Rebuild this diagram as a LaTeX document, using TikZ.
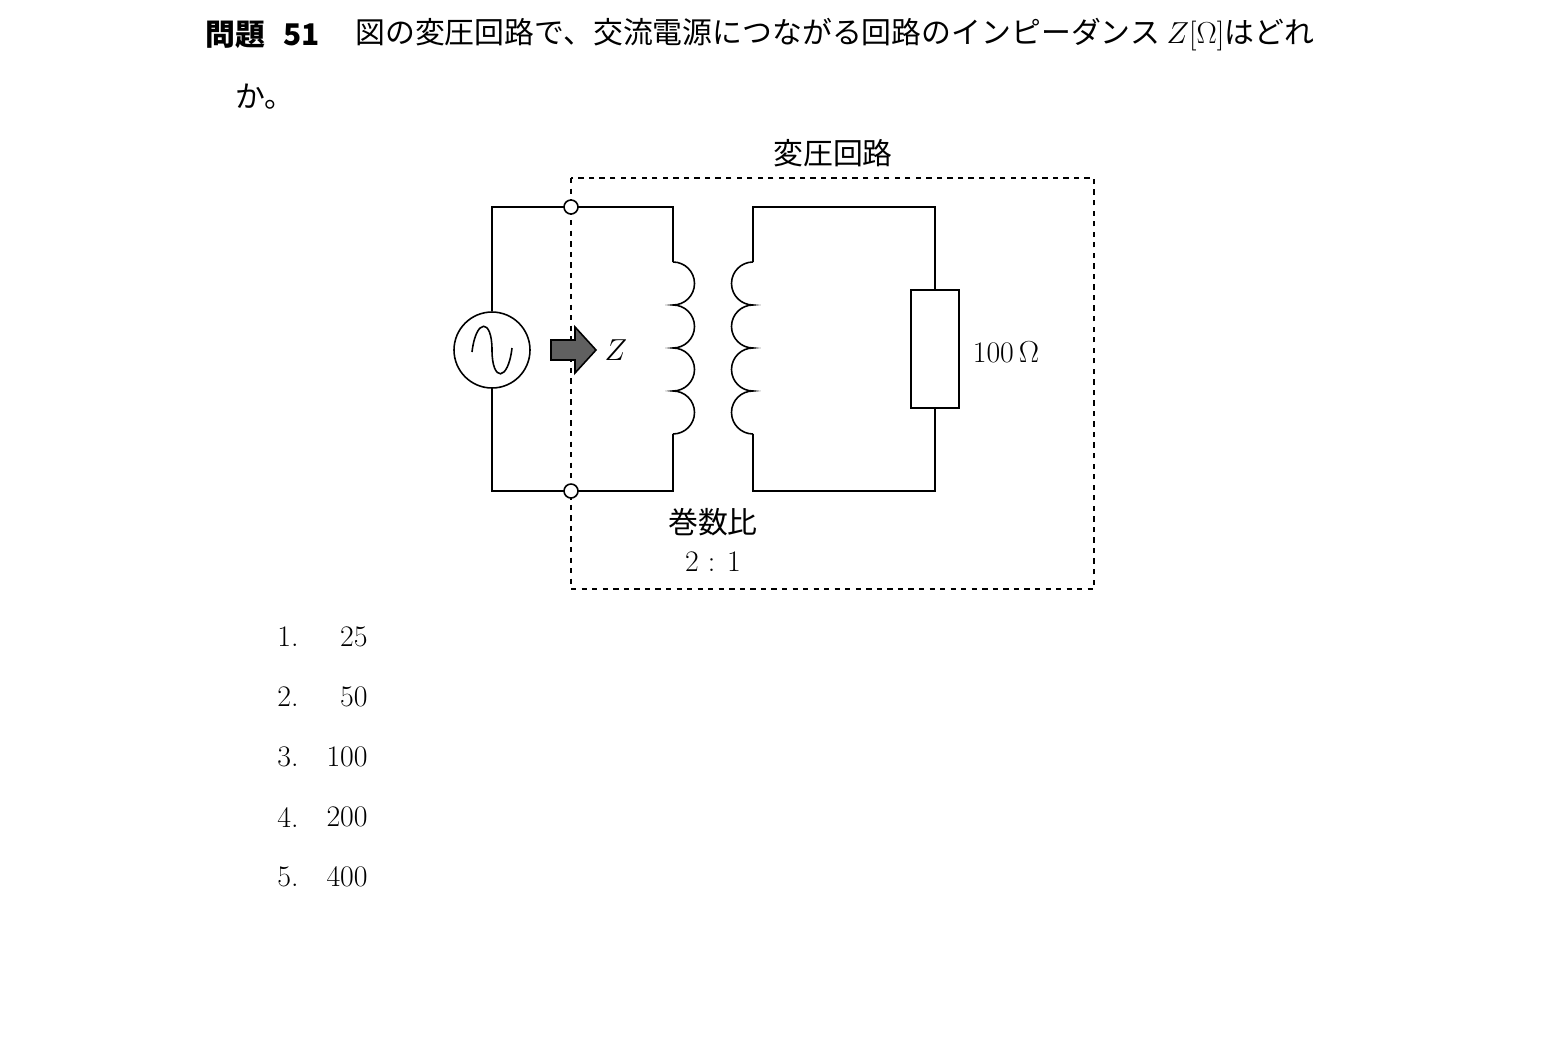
\documentclass[tikz,border=0pt]{standalone}
\usepackage{fontspec}
\newfontfamily\jp{Noto Sans CJK JP}
\usetikzlibrary{positioning}
\tikzset{
  wire/.style={line width=0.9pt},
  term/.style={circle,draw,fill=white,inner sep=0pt,minimum size=0.28cm,line width=0.9pt},
  txt/.style={inner sep=0pt,font=\fontsize{17}{20}\selectfont},
}
\begin{document}
\begin{tikzpicture}[x=0.02cm,y=-0.02cm]
\useasboundingbox (0,0) rectangle (1547,1042);
% question
\node[txt,anchor=west] (qno) at (205,35) {\jp\bfseries 問題\hspace{0.6em}51};
\node[txt,anchor=west] (q1) at (355,35) {\jp 図の変圧回路で、交流電源につながる回路のインピーダンス \rmfamily$Z$[$\Omega$]\jp はどれ};
\node[txt,anchor=west] (q2) at (235,97) {\jp か。};
% dashed frame
\draw[dashed,wire] (571,178) rectangle (1094,589);
\node[txt] (title) at (833,153) {\jp 変圧回路};
% primary loop
\coordinate (p1) at (492,207); \coordinate (p2) at (673,207);
\coordinate (p3) at (673,262); \coordinate (p4) at (673,434);
\coordinate (p5) at (673,491); \coordinate (p6) at (492,491);
\node[circle,draw,wire,minimum size=1.52cm,inner sep=0pt] (src) at (492,350) {};
\draw[wire] (src.north) -- (p1) -- (p2) -- (p3);
\draw[wire] (p4) -- (p5) -- (p6) -- (src.south);
\draw[wire] (p3) \foreach \i in {1,...,4}{ arc(90:-90:0.43cm)};
\draw[wire] (472,352) .. controls (476,318) and (492,318) .. (492,350)
  .. controls (492,382) and (508,382) .. (512,348);
\node[term] (t1) at (571,207) {};
\node[term] (t2) at (571,491) {};
% arrow and Z
\draw[wire,fill=gray!75!black] (551,340) -- (575,340) -- (575,327) -- (596,350)
  -- (575,373) -- (575,360) -- (551,360) -- cycle;
\node[txt] (Z) at (616,350) {$Z$};
% secondary loop
\coordinate (s1) at (753,262); \coordinate (s2) at (753,434);
\node[draw,wire,minimum width=0.96cm,minimum height=2.36cm,inner sep=0pt] (R) at (935,349) {};
\draw[wire] (s1) -- (753,207) -- (935,207) -- (R.north);
\draw[wire] (s2) -- (753,491) -- (935,491) -- (R.south);
\draw[wire] (s1) \foreach \i in {1,...,4}{ arc(90:270:0.43cm)};
\node[txt] (Rlbl) at (1006,352) {100\,$\Omega$};
\node[txt] (ratio) at (713,522) {\jp 巻数比};
\node[txt] (ratio2) at (713,562) {2 : 1};
% choices
\foreach \n/\v [count=\k] in {1/25,2/50,3/100,4/200,5/400}{
  \node[txt,anchor=west] (c\k) at (277,577+60*\k) {\n.};
  \node[txt,anchor=east] (v\k) at (368,577+60*\k) {\v};
}
\end{tikzpicture}
\end{document}
